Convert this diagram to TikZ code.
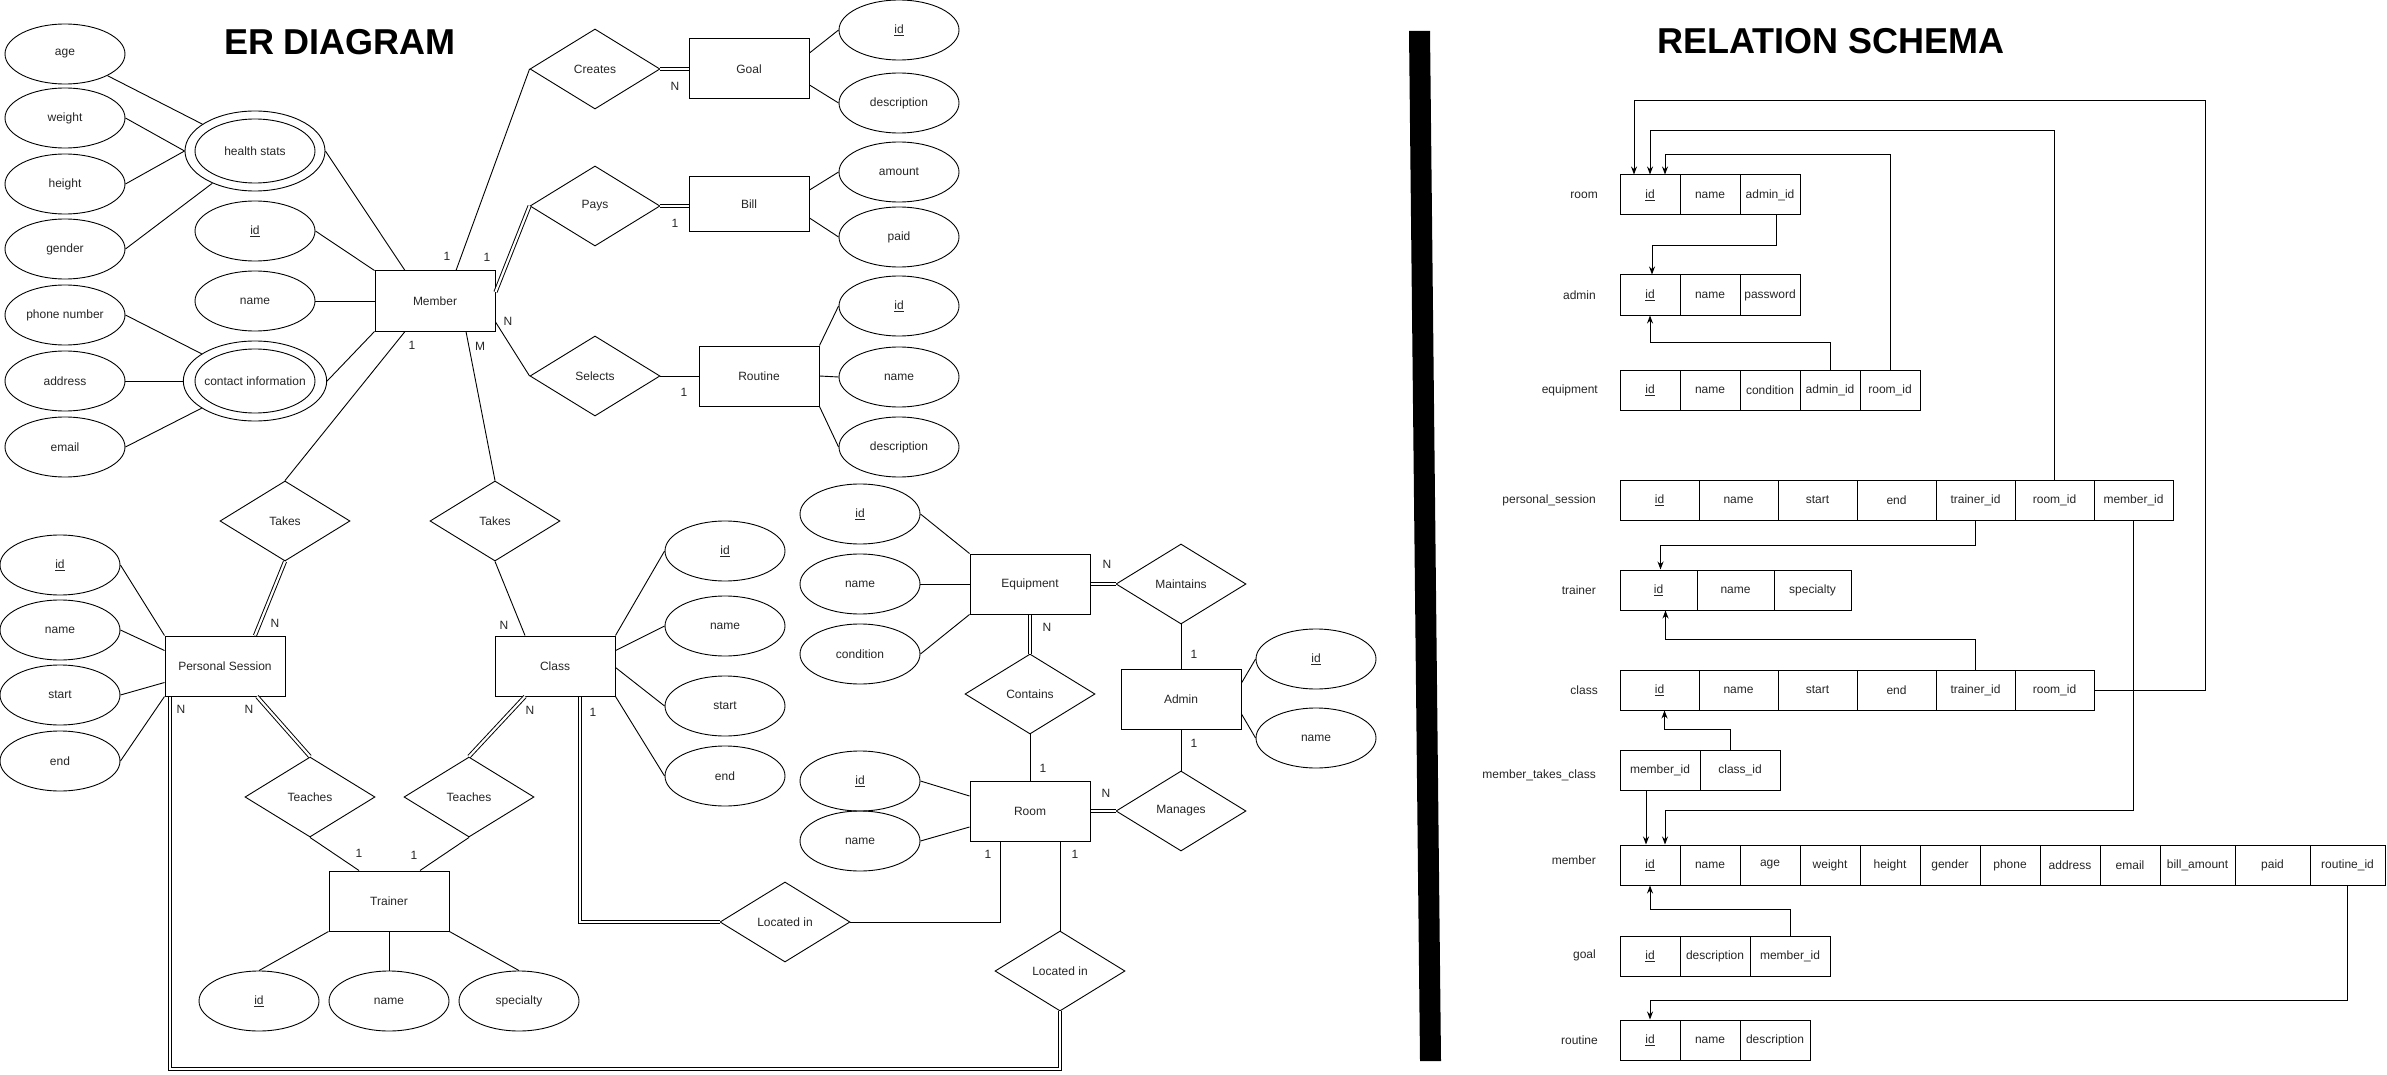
\documentclass[tikz,border=0pt]{standalone}
\usepackage{fontspec}
\setmainfont{Liberation Sans}
\usetikzlibrary{shapes.geometric,arrows.meta}
\begin{document}
\begin{tikzpicture}[x=1pt,y=-1pt,
  every node/.style={font=\fontsize{12}{14}\selectfont, text=black!85},
  attr/.style={ellipse, draw, line width=0.9pt, minimum width=120pt, minimum height=60pt, inner sep=0pt},
  mattr/.style={ellipse, draw, line width=0.9pt, minimum width=140pt, minimum height=80pt, inner sep=0pt},
  ent/.style={rectangle, draw, line width=1pt, minimum width=120pt, minimum height=60pt, inner sep=0pt},
  rel/.style={diamond, draw, line width=0.9pt, minimum width=130pt, minimum height=80pt, inner sep=0pt},
  ln/.style={line width=0.9pt},
  dbl/.style={double, double distance=2.2pt, line width=0.95pt},
  card/.style={inner sep=0pt},
  cell/.style={rectangle, draw, line width=1pt, minimum height=40pt, inner sep=0pt},
  tlabel/.style={anchor=east, inner sep=0pt},
  fk/.style={line width=0.95pt, -{Stealth[length=8pt,width=6pt]}},
  ttl/.style={font=\fontsize{36}{40}\selectfont\bfseries, text=black, anchor=base, inner sep=0pt}
]
\fill[white] (0,0) rectangle (2387,1075);
\useasboundingbox (0,0) rectangle (2387,1075);

% titles and separator
\node[ttl] (ertitle) at (340,55) {ER DIAGRAM};
\node[ttl] (rstitle) at (1831,54) {RELATION SCHEMA};
\fill (1409,31) -- (1430,31) -- (1441,1061) -- (1420,1061) -- cycle;

% ---------------- ER: Member side
\node[attr] (age) at (65,54) {age};
\node[attr] (weight) at (65,118) {weight};
\node[attr] (height) at (65,184) {height};
\node[attr] (gender) at (65,249) {gender};
\node[attr] (phone) at (65,315) {phone number};
\node[attr] (address) at (65,381) {address};
\node[attr] (email) at (65,447) {email};
\node[mattr] (hs) at (255,151) {health stats};
\draw[line width=0.9pt] (hs.center) ellipse [x radius=60pt, y radius=32pt];
\node[mattr] (ci) at (255,381) {contact information};
\draw[line width=0.9pt] (ci.center) ellipse [x radius=60pt, y radius=32pt];
\node[attr] (mid) at (255,231) {\underline{id}};
\node[attr] (mname) at (255,301) {name};
\node[ent] (member) at (435,301) {Member};

\node[rel] (creates) at (595,69) {Creates};
\node[rel] (pays) at (595,206) {Pays};
\node[rel] (selects) at (595,376) {Selects};
\node[ent] (goal) at (749,69) {Goal};
\node[ent, minimum height=55pt] (bill) at (749,204) {Bill};
\node[ent] (routine) at (759,376) {Routine};
\node[attr] (gid) at (899,30) {\underline{id}};
\node[attr] (gdesc) at (899,103) {description};
\node[attr] (amount) at (899,172) {amount};
\node[attr] (paid) at (899,237) {paid};
\node[attr] (rid) at (899,306) {\underline{id}};
\node[attr] (rname) at (899,377) {name};
\node[attr] (rdesc) at (899,447) {description};

\node[rel] (takesL) at (285,521) {Takes};
\node[rel] (takesR) at (495,521) {Takes};
\node[attr] (psid) at (60,565) {\underline{id}};
\node[attr] (psname) at (60,630) {name};
\node[attr] (psstart) at (60,695) {start};
\node[attr] (psend) at (60,761) {end};
\node[ent] (ps) at (225,666) {Personal Session};
\node[ent] (class) at (555,666) {Class};
\node[rel] (teachL) at (310,797) {Teaches};
\node[rel] (teachR) at (469,797) {Teaches};
\node[ent] (trainer) at (389,901) {Trainer};
\node[attr] (tid) at (259,1001) {\underline{id}};
\node[attr] (tname) at (389,1001) {name};
\node[attr] (tspec) at (519,1001) {specialty};
\node[attr] (cid) at (725,551) {\underline{id}};
\node[attr] (cname) at (725,626) {name};
\node[attr] (cstart) at (725,706) {start};
\node[attr] (cend) at (725,776) {end};

\node[attr] (eid) at (860,514) {\underline{id}};
\node[attr] (ename) at (860,584) {name};
\node[attr] (econd) at (860,654) {condition};
\node[ent] (equip) at (1030,584) {Equipment};
\node[rel] (maint) at (1181,584) {Maintains};
\node[rel] (contains) at (1030,694) {Contains};
\node[ent] (admin) at (1181,699) {Admin};
\node[attr] (aid) at (1316,659) {\underline{id}};
\node[attr] (aname) at (1316,738) {name};
\node[attr] (roomid) at (860,781) {\underline{id}};
\node[attr] (roomname) at (860,841) {name};
\node[ent] (room) at (1030,811) {Room};
\node[rel] (manages) at (1181,811) {Manages};
\node[rel] (loc1) at (785,922) {Located in};
\node[rel] (loc2) at (1060,971) {Located in};
\coordinate (bend) at (170,1069);

% ER connectors
\draw[ln] (age) -- (hs);
\draw[ln] (weight.east) -- (hs.west);
\draw[ln] (height.east) -- (hs.west);
\draw[ln] (gender.east) -- (hs);
\draw[ln] (phone.east) -- (ci);
\draw[ln] (address.east) -- (ci.west);
\draw[ln] (email.east) -- (ci);
\draw[ln] (hs.east) -- ([xshift=-30pt]member.north);
\draw[ln] (ci.east) -- (member.south west);
\draw[ln] (mid.east) -- (member.north west);
\draw[ln] (mname.east) -- (member.west);
\draw[ln] ([xshift=21pt]member.north) -- (creates.west);
\draw[dbl] ([yshift=9pt]member.east) -- (pays.west);
\draw[ln] ([yshift=-21pt]member.east) -- (selects.west);
\draw[ln] ([xshift=-30pt]member.south) -- (takesL.north);
\draw[ln] ([xshift=31pt]member.south) -- (takesR.north);
\draw[dbl] (creates.east) -- (goal.west);
\draw[dbl] (pays.east) -- (pays.east -| bill.west);
\draw[ln] (selects.east) -- (routine.west);
\draw[ln] ([yshift=16pt]goal.east) -- (gid.west);
\draw[ln] ([yshift=-16pt]goal.east) -- (gdesc.west);
\draw[ln] ([yshift=14pt]bill.east) -- (amount.west);
\draw[ln] ([yshift=-14pt]bill.east) -- (paid.west);
\draw[ln] (routine.north east) -- (rid.west);
\draw[ln] (routine.east) -- (rname.west);
\draw[ln] (routine.south east) -- (rdesc.west);

\draw[dbl] (takesL.south) -- ([xshift=30pt]ps.north);
\draw[ln] (takesR.south) -- ([xshift=-30pt]class.north);
\draw[dbl] ([xshift=32pt]ps.south) -- (teachL.north);
\draw[dbl] ([xshift=-30pt]class.south) -- (teachR.north);
\draw[ln] (teachL.south) -- ([xshift=-30pt]trainer.north);
\draw[ln] (teachR.south) -- ([xshift=31pt]trainer.north);
\draw[ln] (trainer.south west) -- (tid.north);
\draw[ln] (trainer.south) -- (tname.north);
\draw[ln] (trainer.south east) -- (tspec.north);
\draw[ln] (ps.north west) -- (psid.east);
\draw[ln] ([yshift=-15pt]ps.north west) -- (psname.east);
\draw[ln] ([yshift=14pt]ps.south west) -- (psstart.east);
\draw[ln] (ps.south west) -- (psend.east);
\draw[ln] (class.north east) -- (cid.west);
\draw[ln] ([yshift=-15pt]class.north east) -- (cname.west);
\draw[ln] ([yshift=-32pt]class.north east) -- (cstart.west);
\draw[ln] (class.south east) -- (cend.west);

\draw[ln] (equip.north west) -- (eid.east);
\draw[ln] (equip.west) -- (ename.east);
\draw[ln] (equip.south west) -- (econd.east);
\draw[dbl] (equip.east) -- (maint.west);
\draw[dbl] (equip.south) -- (contains.north);
\draw[ln] (maint.south) -- (admin.north);
\draw[ln] (contains.south) -- (room.north);
\draw[ln] (admin.south) -- (manages.north);
\draw[dbl] (manages.west) -- (room.east);
\draw[ln] ([yshift=16pt]admin.east) -- (aid.west);
\draw[ln] ([yshift=-15pt]admin.east) -- (aname.west);
\draw[ln] ([yshift=15pt]room.west) -- (roomid.east);
\draw[ln] ([yshift=-16pt]room.west) -- (roomname.east);
\draw[ln] ([xshift=-30pt]room.south) |- (loc1.east);
\draw[ln] ([xshift=30pt]room.south) -- (loc2.north);
\draw[dbl] ([xshift=25pt]class.south) |- (loc1.west);
\draw[dbl] ([xshift=-55pt]ps.south) -- (bend) -| (loc2.south);

% cardinalities
\node[card] (k1) at (447,256) {1};
\node[card] (k2) at (487,257) {1};
\node[card] (k3) at (508,321) {N};
\node[card] (k4) at (412,345) {1};
\node[card] (k5) at (480,346) {M};
\node[card] (k6) at (675,86) {N};
\node[card] (k7) at (675,223) {1};
\node[card] (k8) at (684,392) {1};
\node[card] (k9) at (275,623) {N};
\node[card] (k10) at (504,625) {N};
\node[card] (k11) at (249,709) {N};
\node[card] (k12) at (530,710) {N};
\node[card] (k13) at (359,853) {1};
\node[card] (k14) at (414,855) {1};
\node[card] (k15) at (181,709) {N};
\node[card] (k16) at (593,712) {1};
\node[card] (k17) at (1107,564) {N};
\node[card] (k18) at (1047,627) {N};
\node[card] (k19) at (1194,654) {1};
\node[card] (k20) at (1043,768) {1};
\node[card] (k21) at (1194,743) {1};
\node[card] (k22) at (1106,793) {N};
\node[card] (k23) at (988,854) {1};
\node[card] (k24) at (1075,854) {1};

% ---------------- Relation schema
\node[tlabel] (l-room) at (1598,195) {room};
\node[cell, minimum width=60pt] (r-id) at (1650,195) {\underline{id}};
\node[cell, minimum width=60pt] (r-name) at (1710,195) {name};
\node[cell, minimum width=60pt] (r-admin) at (1770,195) {admin\_id};

\node[tlabel] (l-admin) at (1596,295) {admin};
\node[cell, minimum width=60pt] (a-id) at (1650,295) {\underline{id}};
\node[cell, minimum width=60pt] (a-name) at (1710,295) {name};
\node[cell, minimum width=60pt] (a-pw) at (1770,295) {password};

\node[tlabel] (l-eq) at (1598,390) {equipment};
\node[cell, minimum width=60pt] (eq-id) at (1650,390) {\underline{id}};
\node[cell, minimum width=60pt] (eq-name) at (1710,390) {name};
\node[cell, minimum width=60pt] (eq-cond) at (1770,390) {condition};
\node[cell, minimum width=60pt] (eq-admin) at (1830,390) {admin\_id};
\node[cell, minimum width=60pt] (eq-room) at (1890,390) {room\_id};

\node[tlabel] (l-ps) at (1596,500) {personal\_session};
\node[cell, minimum width=79pt] (ps-id) at (1659.5,500) {\underline{id}};
\node[cell, minimum width=79pt] (ps-name) at (1738.5,500) {name};
\node[cell, minimum width=79pt] (ps-start) at (1817.5,500) {start};
\node[cell, minimum width=79pt] (ps-end) at (1896.5,500) {end};
\node[cell, minimum width=79pt] (ps-trainer) at (1975.5,500) {trainer\_id};
\node[cell, minimum width=79pt] (ps-room) at (2054.5,500) {room\_id};
\node[cell, minimum width=79pt] (ps-member) at (2133.5,500) {member\_id};

\node[tlabel] (l-tr) at (1596,590) {trainer};
\node[cell, minimum width=77pt] (t-id) at (1658.5,590) {\underline{id}};
\node[cell, minimum width=77pt] (t-name) at (1735.5,590) {name};
\node[cell, minimum width=77pt] (t-spec) at (1812.5,590) {specialty};

\node[tlabel] (l-class) at (1598,690) {class};
\node[cell, minimum width=79pt] (c-id) at (1659.5,690) {\underline{id}};
\node[cell, minimum width=79pt] (c-name) at (1738.5,690) {name};
\node[cell, minimum width=79pt] (c-start) at (1817.5,690) {start};
\node[cell, minimum width=79pt] (c-end) at (1896.5,690) {end};
\node[cell, minimum width=79pt] (c-trainer) at (1975.5,690) {trainer\_id};
\node[cell, minimum width=79pt] (c-room) at (2054.5,690) {room\_id};

\node[tlabel] (l-mtc) at (1596,775) {member\_takes\_class};
\node[cell, minimum width=80pt] (mtc-member) at (1660,770) {member\_id};
\node[cell, minimum width=80pt] (mtc-class) at (1740,770) {class\_id};

\node[tlabel] (l-mem) at (1596,860) {member};
\node[cell, minimum width=60pt] (m-id) at (1650,865) {\underline{id}};
\node[cell, minimum width=60pt] (m-name) at (1710,865) {name};
\node[cell, minimum width=60pt] (m-age) at (1770,865) {age};
\node[cell, minimum width=60pt] (m-weight) at (1830,865) {weight};
\node[cell, minimum width=60pt] (m-height) at (1890,865) {height};
\node[cell, minimum width=60pt] (m-gender) at (1950,865) {gender};
\node[cell, minimum width=60pt] (m-phone) at (2010,865) {phone};
\node[cell, minimum width=60pt] (m-address) at (2070,865) {address};
\node[cell, minimum width=60pt] (m-email) at (2130,865) {email};
\node[cell, minimum width=75pt] (m-bill) at (2197.5,865) {bill\_amount};
\node[cell, minimum width=75pt] (m-paid) at (2272.5,865) {paid};
\node[cell, minimum width=75pt] (m-routine) at (2347.5,865) {routine\_id};

\node[tlabel] (l-goal) at (1596,955) {goal};
\node[cell, minimum width=60pt] (g-id) at (1650,956) {\underline{id}};
\node[cell, minimum width=70pt] (g-desc) at (1715,956) {description};
\node[cell, minimum width=80pt] (g-member) at (1790,956) {member\_id};

\node[tlabel] (l-rt) at (1598,1040) {routine};
\node[cell, minimum width=60pt] (rt-id) at (1650,1040) {\underline{id}};
\node[cell, minimum width=60pt] (rt-name) at (1710,1040) {name};
\node[cell, minimum width=70pt] (rt-desc) at (1775,1040) {description};

% foreign keys
\draw[fk] (c-room.east) -- (2205,690) -- (2205,100) -| ([xshift=-16pt]r-id.north);
\draw[fk] (ps-room.north) -- ++(0,-349) -| (r-id.north);
\draw[fk] (eq-room.north) -- ++(0,-215) -| ([xshift=15pt]r-id.north);
\draw[fk] ([xshift=6pt]r-admin.south) -- ++(0,30) -| ([xshift=2pt]a-id.north);
\draw[fk] (eq-admin.north) -- ++(0,-27) -| (a-id.south);
\draw[fk] (ps-trainer.south) -- ++(0,25) -| ([xshift=2pt]t-id.north);
\draw[fk] (ps-member.south) -- ++(0,290) -| ([xshift=15pt]m-id.north);
\draw[fk] (c-trainer.north) -- ++(0,-30) -| ([xshift=7pt]t-id.south);
\draw[fk] ([xshift=-10pt]mtc-class.north) -- ++(0,-20) -| ([xshift=5pt]c-id.south);
\draw[fk] ([xshift=-14pt]mtc-member.south) -- ([xshift=-4pt]m-id.north);
\draw[fk] (g-member.north) -- ++(0,-26) -| (m-id.south);
\draw[fk] (m-routine.south) -- ++(0,115) -| (rt-id.north);
\end{tikzpicture}
\end{document}
